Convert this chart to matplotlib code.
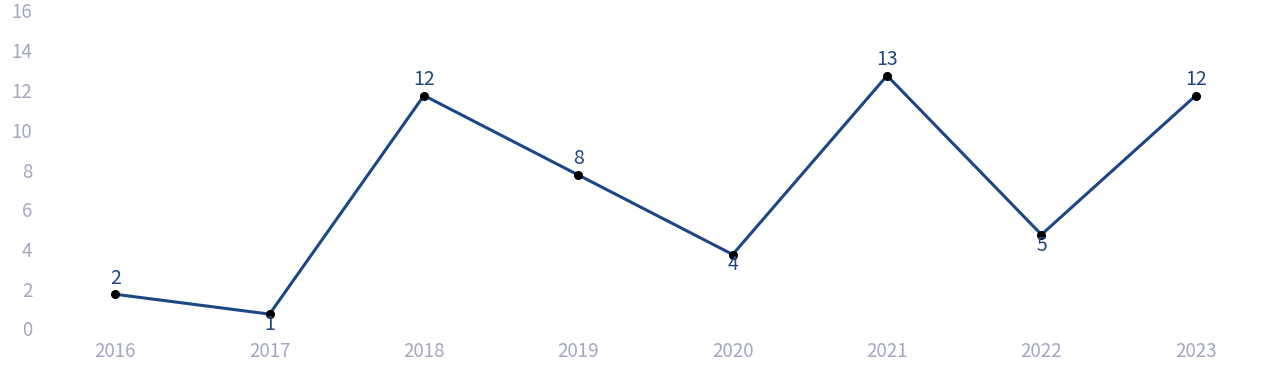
import matplotlib
matplotlib.use("Agg")
import matplotlib.pyplot as plt
import matplotlib.transforms as mtransforms

years = ["2016", "2017", "2018", "2019", "2020", "2021", "2022", "2023"]
values = [2, 1, 12, 8, 4, 13, 5, 12]
label_pos = ["above", "below", "above", "above", "below", "above", "below", "above"]
yticks = [0, 2, 4, 6, 8, 10, 12, 14, 16]

plt.rcParams['font.family'] = ['Noto Sans CJK SC', 'DejaVu Sans']

fig = plt.figure(figsize=(12.8, 3.82), dpi=100)
ax = fig.add_axes([38/1280, 48/382, (1273-38)/1280, (334-16)/382])

x = list(range(len(years)))
line_color = "#1c4784"
ax.plot(x, values, color=line_color, lw=2.2, zorder=2)
ax.plot(x, values, 'o', color="black", ms=5.5, zorder=3)

for xi, v, pos in zip(x, values, label_pos):
    if pos == "above":
        ax.annotate(str(v), (xi, v), xytext=(0, 4), textcoords="offset points",
                    ha="center", va="bottom", color=line_color, fontsize=14)
    else:
        ax.annotate(str(v), (xi, v), xytext=(0, 0), textcoords="offset points",
                    ha="center", va="top", color=line_color, fontsize=14)

ax.set_xlim(-0.5, len(years) - 0.5)
ax.set_ylim(0, 16)
ax.set_xticks(x)
ax.set_xticklabels(years)
ax.set_yticks(yticks)
ax.set_yticklabels([str(t) for t in yticks])
ax.tick_params(axis="both", length=0, colors="#a3a7c2", labelsize=13.5)
ax.tick_params(axis="x", pad=5)
ax.tick_params(axis="y", pad=4)
shift = mtransforms.ScaledTranslation(0, -2.5/100, fig.dpi_scale_trans)
for lab in ax.get_yticklabels():
    lab.set_verticalalignment("baseline")
    lab.set_transform(lab.get_transform() + shift)
for s in ax.spines.values():
    s.set_visible(False)

fig.savefig("out.png", dpi=100)
